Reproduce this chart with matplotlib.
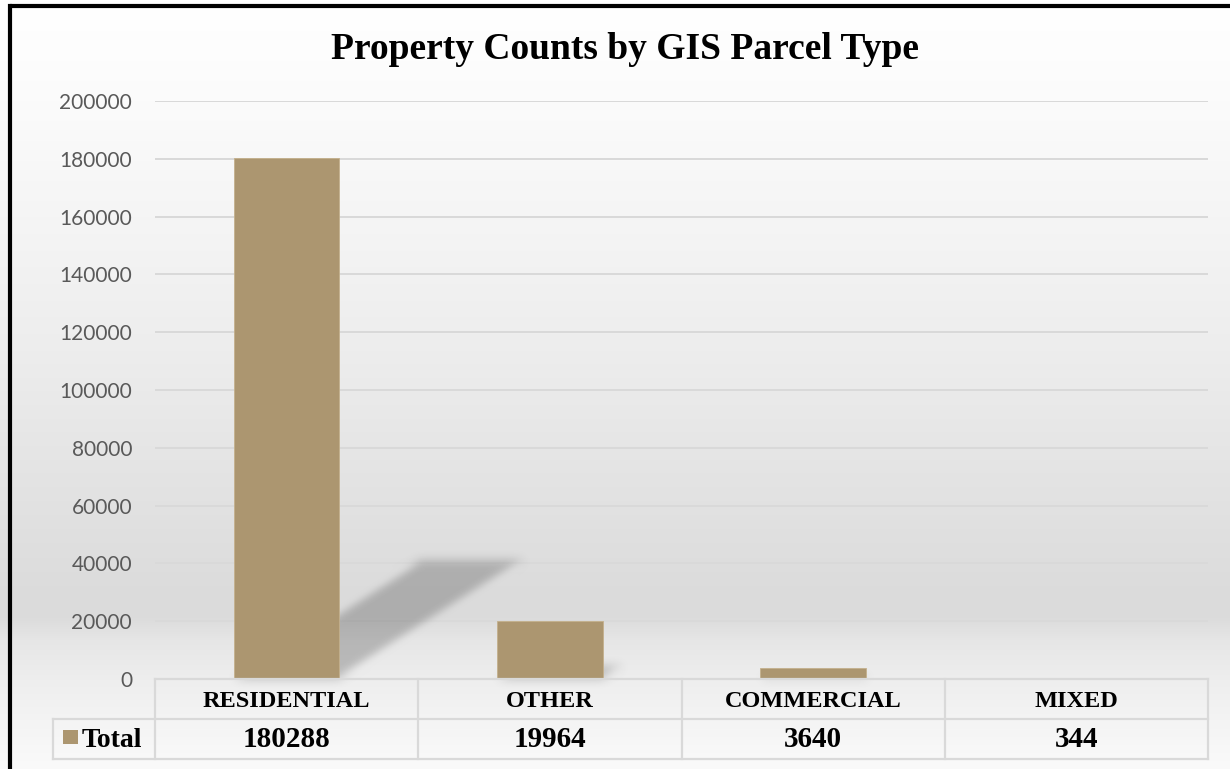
import matplotlib
matplotlib.use("Agg")
import matplotlib.pyplot as plt
import numpy as np
from matplotlib.patches import Polygon, Rectangle

# data
categories = ["RESIDENTIAL", "OTHER", "COMMERCIAL", "MIXED"]
totals = [180288, 19964, 3640, 344]
series_name = "Total"
yticks = list(range(0, 200001, 20000))

W, H = 1230, 769
bar_color = "#ac9670"
grid_color = "#d9d9d9"
serif = "Liberation Serif"


class GaussianBlur:
    """agg filter that softens an artist (used for the bar shadows)"""
    def __init__(self, sigma):
        self.sigma = sigma

    def __call__(self, im, dpi):
        pad = int(3 * self.sigma)
        src = np.pad(im, [(pad, pad), (pad, pad), (0, 0)], "constant")
        x = np.arange(-pad, pad + 1)
        k = np.exp(-x**2 / (2.0 * self.sigma**2))
        k /= k.sum()
        out = np.zeros_like(src)
        for i, w in zip(x, k):
            out += w * np.roll(src, i, axis=0)
        src = out
        out = np.zeros_like(src)
        for i, w in zip(x, k):
            out += w * np.roll(src, i, axis=1)
        return out, -pad, -pad


fig = plt.figure(figsize=(W / 100, H / 100), dpi=100)

# soft gray gradient behind everything, placed pixel for pixel
rows = np.arange(H)
stops_y = [0, 60, 200, 350, 500, 600, 618, 640, 680, 720, 769]
stops_v = [255, 253, 246, 237, 226, 219, 220, 230, 238, 244, 250]
shade = np.interp(rows, stops_y, stops_v) / 255.0
grad = np.repeat(np.tile(shade[:, None], (1, W))[:, :, None], 3, axis=2)
fig.figimage(grad, xo=0, yo=0, origin="upper", zorder=0)

# plot area in pixel terms
left, right, top, base = 155, 1208, 101, 679
ax = fig.add_axes([left / W, 1 - base / H, (right - left) / W, (base - top) / H], zorder=1)
ax.set_facecolor("none")
x = np.arange(len(categories))
ax.set_xlim(-0.5, len(categories) - 0.5)
ax.set_ylim(0, 200000)

# slanted drop shadows behind the bars
bw = 0.4
for xi, v in zip(x, totals):
    h = 0.228 * v
    dx = 0.703 * h / 41000
    poly = Polygon([(xi - bw / 2, 0), (xi + bw / 2, 0),
                    (xi + bw / 2 + dx, h), (xi - bw / 2 + dx, h)],
                   closed=True, facecolor="black", alpha=0.21, lw=0, zorder=2)
    poly.set_agg_filter(GaussianBlur(5))
    ax.add_patch(poly)

ax.bar(x, totals, width=bw, color=bar_color, edgecolor="#c4b08c", linewidth=0.6, zorder=3)

ax.set_yticks(yticks)
ax.set_yticklabels([str(t) for t in yticks], fontsize=15, color="#595959", family="Lato")
ax.tick_params(axis="y", length=0, pad=16.5)
ax.set_xticks([])
ax.yaxis.grid(True, color=grid_color, linewidth=1.4, zorder=0)
ax.set_axisbelow(True)
for s in ax.spines.values():
    s.set_visible(False)

# overlay in pixel coords: frame, title and data table
ov = fig.add_axes([0, 0, 1, 1], zorder=2)
ov.set_facecolor("none")
ov.set_xlim(0, W)
ov.set_ylim(H, 0)
ov.axis("off")

ov.plot([9.5, 9.5], [H, 5.5], color="black", lw=3, solid_capstyle="projecting")
ov.plot([9.5, W + 5], [5.5, 5.5], color="black", lw=3, solid_capstyle="butt")

ov.text(625, 59, "Property Counts by GIS Parcel Type", family=serif,
        weight="bold", fontsize=27, ha="center", va="baseline")

row1, row2, row3 = 679, 719, 759
col_w = (right - left) / len(categories)
edges = [left + i * col_w for i in range(len(categories) + 1)]
lkw = dict(color=grid_color, lw=1.6)
ov.plot([left, right], [row1, row1], **lkw)
ov.plot([53, right], [row2, row2], **lkw)
ov.plot([53, right], [row3, row3], **lkw)
ov.plot([53, 53], [row2, row3], **lkw)
for e in edges:
    ov.plot([e, e], [row1, row3], **lkw)

for i, (cat, v) in enumerate(zip(categories, totals)):
    cx = (edges[i] + edges[i + 1]) / 2
    ov.text(cx, 707, cat, family=serif, weight="bold", fontsize=17.5,
            ha="center", va="baseline")
    ov.text(cx, 747, str(v), family=serif, weight="bold", fontsize=21,
            ha="center", va="baseline")

ov.add_patch(Rectangle((63, 730), 15, 14, color=bar_color, lw=0))
ov.text(82, 747, series_name, family=serif, weight="bold", fontsize=20,
        ha="left", va="baseline")

fig.savefig("out.png", dpi=100)
